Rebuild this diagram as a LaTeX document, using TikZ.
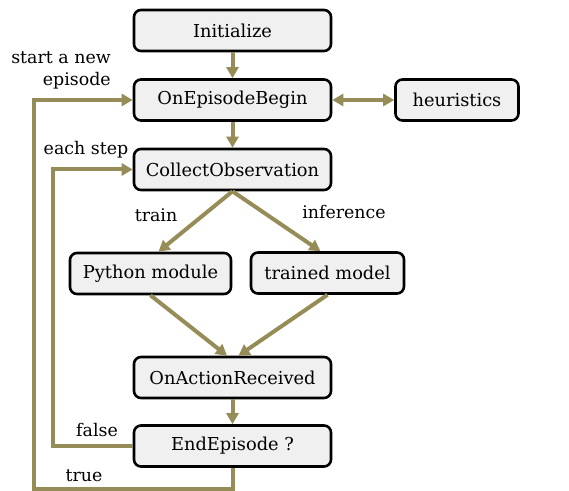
\documentclass[tikz,border=0pt]{standalone}
\usepackage{fontspec}
\setmainfont{DejaVu Serif}
\usetikzlibrary{arrows.meta,calc}
\definecolor{flow}{RGB}{150,140,88}
\definecolor{boxfill}{RGB}{240,240,240}

\begin{document}
\begin{tikzpicture}[
        x=0.5pt,
        y=-0.5pt,
        box/.style={rectangle, rounded corners=3.5pt, draw, line width=1.3pt, fill=boxfill, minimum width=98.5pt, minimum height=20.5pt, font=\fontsize{8.9}{10}\selectfont},
        lbl/.style={font=\fontsize{8.7}{11}\selectfont, inner sep=0pt},
        route/.style={-{Triangle[length=5.5pt,width=6pt]}, line width=2pt, flow},
        ]
        \useasboundingbox (0,0) rectangle (569,491);

        \node(init)[box] at (232.5,30.5) {Initialize};
        \node(begin)[box] at (232.5,100) {OnEpisodeBegin};
        \node(heur)[box, minimum width=61.5pt] at (457,100) {heuristics};
        \node(collect)[box] at (232.5,169.5) {CollectObservation};
        \node(python)[box, minimum width=80.5pt] at (150.5,273.5) {Python module};
        \node(trained)[box, minimum width=76.5pt] at (327.5,273) {trained model};
        \node(action)[box] at (232.5,377.5) {OnActionReceived};
        \node(endep)[box] at (232.5,446) {EndEpisode ?};

        \node(lstart)[lbl, align=right] at (61,70) {start a new\\episode};
        \node(lstep)[lbl] at (86,150) {each step};
        \node(ltrain)[lbl] at (156,215) {train};
        \node(linfer)[lbl] at (344,212) {inference};
        \node(lfalse)[lbl] at (97,430) {false};
        \node(ltrue)[lbl] at (84,476) {true};

        \draw[route](init)--(begin);
        \draw[route, {Triangle[length=5.5pt,width=6pt]}-{Triangle[length=5.5pt,width=6pt]}](begin)--(heur);
        \draw[route](begin)--(collect);
        \draw[route](collect.south)--([xshift=4pt]python.north);
        \draw[route](collect.south)--([xshift=-3.5pt]trained.north);
        \draw[route](python.south)--([xshift=-2.75pt]action.north);
        \draw[route](trained.south)--([xshift=3pt]action.north);
        \draw[route](action)--(endep);
        \draw[route](endep.west)--++(-80,0)|-(collect.west);
        \draw[route](endep.south)--++(0,21)--++(-199,0)|-(begin.west);

      \end{tikzpicture}
\end{document}
